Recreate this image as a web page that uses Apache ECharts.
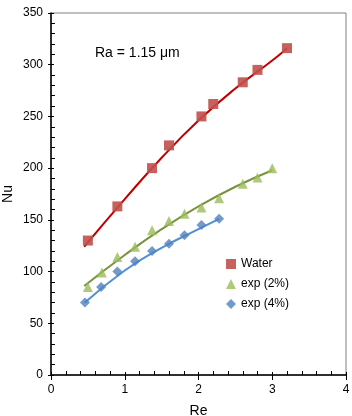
<!DOCTYPE html>
<html>
<head>
<meta charset="utf-8">
<script src="https://cdn.jsdelivr.net/npm/echarts@6/dist/echarts.min.js"></script>
<style>
  html, body { margin: 0; padding: 0; background: #fff; }
  #chart { width: 352px; height: 416px; }
</style>
</head>
<body>
<div id="chart"></div>
<script>
// measured points
const waterPts = [
  [0.5, 130], [0.9, 163], [1.37, 200], [1.6, 222], [2.04, 250],
  [2.2, 262], [2.6, 283], [2.8, 295], [3.2, 316]
]
const exp2Pts = [
  [0.5, 85], [0.69, 99], [0.9, 114], [1.14, 124], [1.37, 140], [1.6, 149],
  [1.81, 156], [2.04, 162], [2.28, 171], [2.6, 185], [2.8, 191], [3.0, 200]
]
const exp4Pts = [
  [0.46, 70], [0.68, 85], [0.9, 100], [1.14, 110], [1.37, 120],
  [1.6, 127], [1.81, 135], [2.04, 145], [2.28, 151]
]

// fitted trend lines
const waterFit = [[0.45, 124], [1.0, 170], [1.5, 210], [2.0, 246], [2.5, 277], [3.0, 304], [3.2, 316]]
const exp2Fit = [[0.45, 86], [1.0, 116], [1.5, 141], [2.0, 163], [2.5, 182], [3.0, 198]]
const exp4Fit = [[0.46, 70], [1.0, 101], [1.5, 123], [2.0, 141], [2.28, 151]]

const seriesNames = ['Water', 'exp (2%)', 'exp (4%)']

const font = 'Liberation Sans, Arial, sans-serif'

const chart = echarts.init(document.getElementById('chart'), null, { renderer: 'canvas' })

const gridBox = { left: 51, right: 6, top: 13, bottom: 41, outerBoundsMode: 'none' }

// second grid only carries the inward minor ticks
const overlayAxis = {
  gridIndex: 1,
  show: true,
  axisLine: { show: false },
  axisLabel: { show: false },
  splitLine: { show: false },
  axisTick: { show: true, inside: true, length: 3, lineStyle: { color: '#000' } },
  minorTick: { show: true, splitNumber: 5, length: 4, lineStyle: { color: '#000' } }
}

chart.setOption({
  backgroundColor: '#fff',
  animation: false,
  grid: [
    Object.assign({ show: true, borderColor: '#808080', borderWidth: 1 }, gridBox),
    Object.assign({}, gridBox)
  ],
  title: {
    text: 'Ra = 1.15 μm',
    left: 90, top: 41,
    textStyle: { fontFamily: font, fontSize: 14, fontWeight: 'normal', color: '#000' }
  },
  legend: {
    orient: 'vertical',
    left: 221, top: 253,
    itemGap: 8,
    itemWidth: 10, itemHeight: 10,
    data: [
      { name: seriesNames[0], icon: 'rect' },
      { name: seriesNames[1], icon: 'triangle' },
      { name: seriesNames[2], icon: 'diamond' }
    ],
    textStyle: { fontFamily: font, fontSize: 12, color: '#000' }
  },
  xAxis: [
    {
      type: 'value', min: 0, max: 4, interval: 1,
      name: 'Re', nameLocation: 'middle', nameGap: 29, nameMoveOverlap: false,
      nameTextStyle: { fontFamily: font, fontSize: 14, color: '#000' },
      axisLine: { lineStyle: { color: '#000', width: 1.5 } },
      axisTick: { show: true, length: 5, lineStyle: { color: '#000' } },
      axisLabel: { fontFamily: font, fontSize: 12, color: '#000', margin: 9 },
      splitLine: { show: false }
    },
    Object.assign({ type: 'value', min: 0, max: 4, interval: 1, position: 'bottom' }, overlayAxis)
  ],
  yAxis: [
    {
      type: 'value', min: 0, max: 350, interval: 50,
      name: 'Nu', nameLocation: 'middle', nameGap: 36, nameMoveOverlap: false,
      nameTextStyle: { fontFamily: font, fontSize: 14, color: '#000' },
      axisLine: { show: true, lineStyle: { color: '#000', width: 1.5 } },
      axisTick: { show: true, length: 3, lineStyle: { color: '#000' } },
      axisLabel: { fontFamily: font, fontSize: 12, color: '#000', margin: 8 },
      splitLine: { show: false }
    },
    Object.assign({ type: 'value', min: 0, max: 350, interval: 50, position: 'left' }, overlayAxis)
  ],
  series: [
    {
      name: 'waterFit', type: 'line', smooth: true, symbol: 'none', silent: true,
      data: waterFit, lineStyle: { color: '#C00000', width: 2 }, z: 2
    },
    {
      name: 'exp2Fit', type: 'line', smooth: true, symbol: 'none', silent: true,
      data: exp2Fit, lineStyle: { color: '#77933C', width: 2 }, z: 2
    },
    {
      name: 'exp4Fit', type: 'line', smooth: true, symbol: 'none', silent: true,
      data: exp4Fit, lineStyle: { color: '#4F8FD6', width: 2 }, z: 2
    },
    {
      name: seriesNames[0], type: 'scatter', symbol: 'rect', symbolSize: 10,
      data: waterPts, itemStyle: { color: '#C0504D', opacity: 0.9 }, z: 3
    },
    {
      name: seriesNames[1], type: 'scatter', symbol: 'triangle', symbolSize: 10,
      data: exp2Pts, itemStyle: { color: '#9BBB59' }, z: 3
    },
    {
      name: seriesNames[2], type: 'scatter', symbol: 'diamond', symbolSize: 10,
      data: exp4Pts, itemStyle: { color: '#4F81BD' }, z: 3
    }
  ]
})
</script>
</body>
</html>
